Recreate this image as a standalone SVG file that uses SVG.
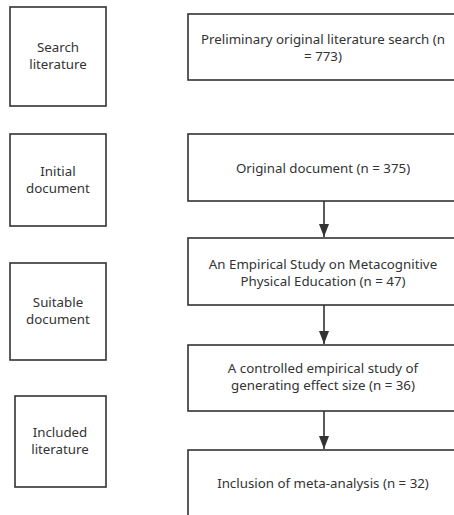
<svg xmlns="http://www.w3.org/2000/svg" width="454" height="515" viewBox="0 0 454 515">
<defs>
<style>
.box{fill:#fff;stroke:#333;stroke-width:1.6}
.t{font-family:"Noto Sans","Open Sans",sans-serif;font-size:13.3px;fill:#333;text-anchor:middle}
.c{stroke:#333;stroke-width:1.6;fill:none}
</style>
<marker id="ah" markerWidth="13" markerHeight="10" refX="13" refY="5" orient="auto" markerUnits="userSpaceOnUse" viewBox="0 0 13 10">
<path d="M0,0 L13,5 L0,10 Z" fill="#333"/>
</marker>
</defs>
<rect width="454" height="515" fill="#fff"/>
<g id="stage1"><rect class="box" x="10" y="7" width="96" height="99"/><text class="t" x="58" y="52">Search</text><text class="t" x="58" y="69">literature</text></g>
<g id="stage2"><rect class="box" x="10" y="134" width="96" height="92"/><text class="t" x="58" y="176">Initial</text><text class="t" x="58" y="193">document</text></g>
<g id="stage3"><rect class="box" x="10" y="263" width="96" height="97"/><text class="t" x="58" y="307">Suitable</text><text class="t" x="58" y="324">document</text></g>
<g id="stage4"><rect class="box" x="15" y="396" width="91" height="91"/><text class="t" x="60" y="437">Included</text><text class="t" x="60" y="454">literature</text></g>
<g id="nodeA"><rect class="box" x="188" y="14" width="272" height="66"/><text class="t" x="323" y="44">Preliminary original literature search (n</text><text class="t" x="323" y="61">= 773)</text></g>
<g id="nodeB"><rect class="box" x="188" y="134" width="272" height="67"/><text class="t" x="323" y="173">Original document (n = 375)</text></g>
<g id="nodeC"><rect class="box" x="188" y="238" width="272" height="67"/><text class="t" x="323" y="269">An Empirical Study on Metacognitive</text><text class="t" x="323" y="286">Physical Education (n = 47)</text></g>
<g id="nodeD"><rect class="box" x="188" y="345" width="272" height="66"/><text class="t" x="323" y="373">A controlled empirical study of</text><text class="t" x="323" y="390">generating effect size (n = 36)</text></g>
<g id="nodeE"><rect class="box" x="188" y="450" width="272" height="80"/><text class="t" x="323" y="488">Inclusion of meta-analysis (n = 32)</text></g>
<g id="connectors">
<line class="c" x1="324" y1="201" x2="324" y2="237" marker-end="url(#ah)"/>
<line class="c" x1="324" y1="305" x2="324" y2="344" marker-end="url(#ah)"/>
<line class="c" x1="324" y1="411" x2="324" y2="449" marker-end="url(#ah)"/>
</g>
</svg>
